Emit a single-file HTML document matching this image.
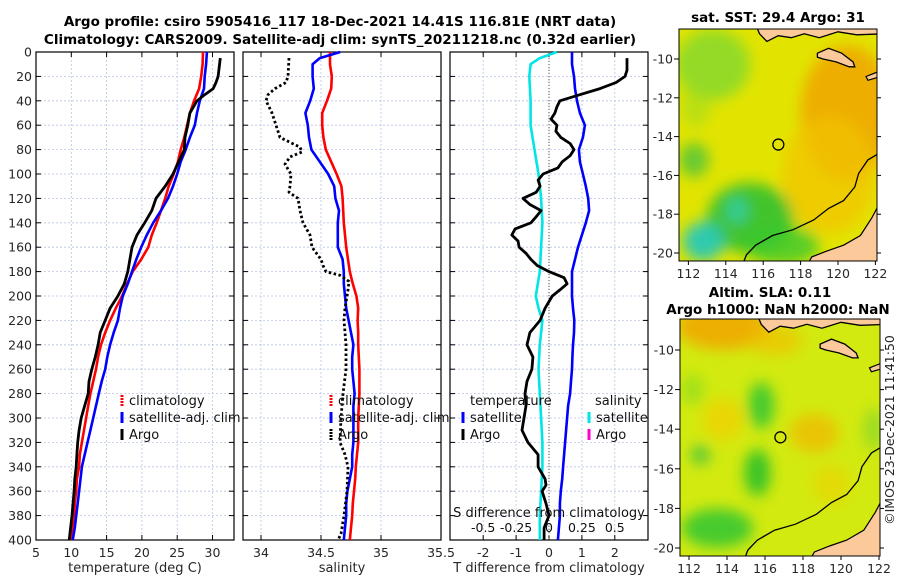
<!DOCTYPE html>
<html><head><meta charset="utf-8"><style>
html,body{margin:0;padding:0;background:#fff}
svg{display:block;font-family:"DejaVu Sans","Liberation Sans",sans-serif}
</style></head><body>
<svg id="fig" width="900" height="580" viewBox="0 0 900 580" xmlns="http://www.w3.org/2000/svg">
<defs>
<filter id="blur" x="-50%" y="-50%" width="200%" height="200%"><feGaussianBlur stdDeviation="7"/></filter>
<clipPath id="clipTop"><rect x="679" y="29" width="198" height="232"/></clipPath>
<clipPath id="clipBot"><rect x="680" y="319" width="200" height="237"/></clipPath>
</defs>
<g font-weight="bold" font-size="13.5" fill="#000" text-anchor="middle">
<text x="340" y="26">Argo profile: csiro 5905416_117 18-Dec-2021 14.41S 116.81E (NRT data)</text>
<text x="340" y="44">Climatology: CARS2009. Satellite-adj clim: synTS_20211218.nc (0.32d earlier)</text>
<text x="778" y="22">sat. SST: 29.4 Argo: 31</text>
<text x="770" y="297">Altim. SLA: 0.11</text>
<text x="778" y="314">Argo h1000: NaN h2000: NaN</text>
</g>
<text x="894" y="430" font-size="12.5" fill="#222" text-anchor="middle" transform="rotate(-90 894 430)">©IMOS 23-Dec-2021 11:41:50</text>
<g id="plots"></g>
</svg>
<script>
// ---------- data ----------
const depthStd = [0,10,20,30,40,50,60,70,80,90,100,110,120,130,140,150,160,170,180,190,200,210,220,230,240,250,260,270,280,290,300,310,320,330,340,350,360,370,380,390,400];
const tempClim = [28.65,28.6,28.4,28.1,27.4,26.8,26.4,26.0,25.5,25.1,24.5,23.8,23.3,22.7,22.1,21.4,20.9,19.9,18.7,17.9,17.2,16.3,15.5,14.8,14.2,13.8,13.5,13.1,12.7,12.4,12.1,11.8,11.5,11.2,11.1,10.8,10.7,10.5,10.4,10.2,10.0];
const tempSat = [29.2,29.1,28.9,28.8,28.2,27.8,27.5,26.8,26.2,25.5,25.0,24.4,23.7,22.7,21.6,20.7,19.9,19.2,18.6,18.0,17.3,16.9,16.6,16.0,15.5,15.1,14.8,14.3,13.9,13.5,13.1,12.7,12.3,11.9,11.5,11.3,11.1,10.9,10.7,10.5,10.2];
const depthArgoT = [5,20,25,30,35,40,50,60,70,80,90,100,110,120,130,140,150,160,170,180,190,200,210,220,230,240,250,260,270,280,290,300,310,320,330,340,350,360,380,400];
const tempArgo = [31.1,30.8,30.5,30.1,28.9,27.8,26.8,26.5,26.1,26.0,25.2,24.4,23.3,22.0,21.4,20.4,19.3,18.6,18.3,18.0,17.5,16.6,15.5,14.8,14.1,13.8,13.4,12.9,12.5,12.4,11.9,11.4,11.1,10.9,10.8,10.7,10.5,10.4,10.1,9.7];
const salClim = [34.575,34.575,34.59,34.585,34.55,34.51,34.51,34.52,34.54,34.585,34.63,34.67,34.68,34.685,34.69,34.7,34.71,34.725,34.74,34.765,34.795,34.81,34.805,34.81,34.81,34.815,34.82,34.82,34.82,34.815,34.81,34.81,34.81,34.8,34.79,34.785,34.775,34.765,34.76,34.75,34.74];
const depthSalSat = [0,5,10,20,30,40,50,60,70,80,90,100,110,120,130,140,150,160,170,180,190,200,210,220,230,240,250,260,270,280,290,300,310,320,330,340,350,360,370,380,390,400];
const salSat = [34.66,34.49,34.43,34.43,34.44,34.41,34.37,34.39,34.4,34.42,34.49,34.56,34.61,34.62,34.65,34.64,34.64,34.64,34.68,34.69,34.69,34.7,34.71,34.73,34.75,34.77,34.76,34.76,34.77,34.78,34.77,34.77,34.77,34.77,34.76,34.76,34.74,34.72,34.71,34.71,34.7,34.69];
const depthArgoS = [5,20,25,30,35,40,50,60,70,78,82,86,92,100,110,115,120,130,140,150,160,170,175,180,183,188,195,200,210,220,240,260,280,300,320,330,340,360,380,395,400];
const salArgo = [34.233,34.225,34.208,34.117,34.058,34.042,34.092,34.125,34.158,34.325,34.342,34.242,34.2,34.25,34.242,34.233,34.308,34.325,34.35,34.408,34.425,34.5,34.517,34.542,34.658,34.733,34.725,34.717,34.7,34.692,34.708,34.708,34.683,34.667,34.658,34.7,34.725,34.717,34.692,34.667,34.642];
const tDiffSat = [0.70,0.70,0.76,0.79,0.85,0.94,1.09,1.03,0.91,0.94,1.03,1.12,1.19,1.22,1.12,1.0,0.88,0.79,0.70,0.70,0.70,0.73,0.77,0.76,0.73,0.71,0.70,0.67,0.64,0.58,0.55,0.52,0.49,0.46,0.43,0.40,0.36,0.33,0.33,0.30,0.27];
const depthTDiffArgo = [5,15,20,25,30,35,40,45,50,55,60,65,70,75,80,85,90,95,100,105,110,115,120,125,130,135,140,145,150,155,160,165,170,175,180,185,190,195,200,210,220,230,240,250,260,270,280,290,300,310,320,330,340,350,355,360,370,380,390,400];
const tDiffArgo = [2.37,2.37,2.31,2.04,1.55,0.94,0.33,0.24,0.18,0.06,0.24,0.21,0.36,0.64,0.76,0.64,0.4,0.27,-0.18,-0.33,-0.27,-0.39,-0.79,-0.58,-0.24,-0.39,-0.55,-1.03,-1.13,-0.94,-0.91,-0.7,-0.55,-0.36,0,0.46,0.55,0.33,0.1,-0.12,-0.27,-0.58,-0.67,-0.49,-0.52,-0.67,-0.73,-0.7,-0.76,-0.82,-0.64,-0.33,-0.33,-0.12,-0.09,-0.21,-0.09,0,-0.15,-0.15];
const depthSDiff = [0,5,10,20,40,60,80,100,120,140,160,180,200,210,220,240,260,280,300,320,340,360,380,400];
const sDiffSat = [0.06,-0.07,-0.14,-0.15,-0.14,-0.14,-0.11,-0.08,-0.06,-0.05,-0.06,-0.07,-0.1,-0.08,-0.05,-0.07,-0.08,-0.07,-0.06,-0.05,-0.05,-0.06,-0.07,-0.07];
const depthTicks = [0,20,40,60,80,100,120,140,160,180,200,220,240,260,280,300,320,340,360,380,400];
const tempTicks = [5,10,15,20,25,30];
const salTicks = [34,34.5,35,35.5];
const salTickLabels = ["34","34.5","35","35.5"];
const tdTicks = [-2,-1,0,1,2];
const sdTicks = [-0.5,-0.25,0,0.25,0.5];
const sdTickLabels = ["-0.5","-0.25","0","0.25","0.5"];
const topLatTicks = [-10,-12,-14,-16,-18,-20];
const lonTicks = [112,114,116,118,120,122];
const argoLon = 116.81, argoLat = -14.41;

// ---------- helpers ----------
const NS="http://www.w3.org/2000/svg";
const root=document.getElementById('plots');
function mk(tag,attrs,parent){const e=document.createElementNS(NS,tag);for(const k in attrs)e.setAttribute(k,attrs[k]);(parent||root).appendChild(e);return e;}
const Y0=52,Y1=540;
const yD=d=>Y0+(d/400)*(Y1-Y0);
function axisFn(v0,x0,v1,x1){return v=>x0+(v-v0)*(x1-x0)/(v1-v0);}
const xT=axisFn(5,36,30,212.5);
const xS=axisFn(34,261,35.5,441);
const xTD=axisFn(0,549,2,614.8);
const xSD=axisFn(0,549,0.5,614.8);

function panel(name,x0,x1,xs,ticks,labels,showY,xlabel){
  const g=mk('g',{});
  
  
  ticks.forEach(t=>{const l=mk('line',{x1:xs(t),x2:xs(t),y1:Y0,y2:Y1,stroke:'#b8c4e8','stroke-width':0.8,'stroke-dasharray':'2,2'},g);
    });
  depthTicks.forEach(d=>{const l=mk('line',{x1:x0,x2:x1,y1:yD(d),y2:yD(d),stroke:'#b8c4e8','stroke-width':0.8,'stroke-dasharray':'2,2'},g);
    
    mk('line',{x1:x0,x2:x0+5,y1:yD(d),y2:yD(d),stroke:'#000'},g);mk('line',{x1:x1-5,x2:x1,y1:yD(d),y2:yD(d),stroke:'#000'},g);
    if(showY){const t=mk('text',{x:x0-4,y:yD(d)+4.5,'font-size':12.5,'text-anchor':'end',fill:'#262626'},g);t.textContent=d;
      }});
  ticks.forEach((t,i)=>{mk('line',{x1:xs(t),x2:xs(t),y1:Y1-5,y2:Y1,stroke:'#000'},g);mk('line',{x1:xs(t),x2:xs(t),y1:Y0,y2:Y0+5,stroke:'#000'},g);
    const tx=mk('text',{x:xs(t),y:Y1+17,'font-size':12.5,'text-anchor':'middle',fill:'#262626'},g);tx.textContent=labels[i];
    });
  const r=mk('rect',{x:x0,y:Y0,width:x1-x0,height:Y1-Y0,fill:'none',stroke:'#000','stroke-width':1.2},g);
  
  const xl=mk('text',{x:(x0+x1)/2,y:572,'font-size':13,'text-anchor':'middle',fill:'#262626'},g);xl.textContent=xlabel;
  
  return g;
}
function line(g,name,xs,vals,depths,color,w,dash){
  const pts=vals.map((v,i)=>xs(v).toFixed(1)+','+yD(depths[i]).toFixed(1)).join(' ');
  const p=mk('polyline',{points:pts,fill:'none',stroke:color,'stroke-width':w,'stroke-linejoin':'round'},g);
  if(dash)p.setAttribute('stroke-dasharray',dash);
  
  
}
function legendItem(g,x,y,color,label,dash){
  const m=mk('line',{x1:x,x2:x,y1:y-10,y2:y+1,stroke:color,'stroke-width':3},g);
  if(dash)m.setAttribute('stroke-dasharray',dash);
  
  const t=mk('text',{x:x+7,y:y,'font-size':13,fill:'#111'},g);t.textContent=label;
  
}

// ---------- panel 1: temperature ----------
const p1=panel('temperature-panel',36,234,xT,tempTicks,tempTicks.map(String),true,'temperature (deg C)');
line(p1,'temperature-climatology-line',xT,tempClim,depthStd,'#ff0000',2.6);
line(p1,'temperature-satellite-line',xT,tempSat,depthStd,'#0000ff',2.6);
line(p1,'temperature-argo-line',xT,tempArgo,depthArgoT,'#000',2.8);
legendItem(p1,122,405,'#ff0000','climatology','2,1');
legendItem(p1,122,422,'#0000ff','satellite-adj. clim');
legendItem(p1,122,439,'#000','Argo');

// ---------- panel 2: salinity ----------
const p2=panel('salinity-panel',243,441,xS,salTicks,salTickLabels,false,'salinity');
line(p2,'salinity-climatology-line',xS,salClim,depthStd,'#ff0000',2.6);
line(p2,'salinity-satellite-line',xS,salSat,depthSalSat,'#0000ff',2.6);
line(p2,'salinity-argo-line',xS,salArgo,depthArgoS,'#000',2.8,'2.5,2.5');
legendItem(p2,331,405,'#ff0000','climatology','2,1');
legendItem(p2,331,422,'#0000ff','satellite-adj. clim');
legendItem(p2,331,439,'#000','Argo','2,1');

// ---------- panel 3: differences ----------
const p3=panel('difference-panel',450,648,xTD,tdTicks,tdTicks.map(String),false,'T difference from climatology');
const zl=mk('line',{x1:xTD(0),x2:xTD(0),y1:Y0,y2:Y1,stroke:'#555','stroke-width':1,'stroke-dasharray':'1,2'},p3);

line(p3,'salinity-diff-satellite-line',xSD,sDiffSat,depthSDiff,'#00e5e5',2.6);
line(p3,'temperature-diff-satellite-line',xTD,tDiffSat,depthStd,'#0000ff',2.6);
line(p3,'temperature-diff-argo-line',xTD,tDiffArgo,depthTDiffArgo,'#000',2.8);
const tt=mk('text',{x:470,y:405,'font-size':13,fill:'#111'},p3);tt.textContent='temperature';

const st=mk('text',{x:595,y:405,'font-size':13,fill:'#111'},p3);st.textContent='salinity';

legendItem(p3,463,422,'#0000ff','satellite');
legendItem(p3,463,439,'#000','Argo');
legendItem(p3,589,422,'#00e5e5','satellite');
legendItem(p3,589,439,'#ff00cc','Argo');
const sdl=mk('text',{x:549,y:517,'font-size':13,'text-anchor':'middle',fill:'#111'},p3);sdl.textContent='S difference from climatology';

sdTicks.forEach((t,i)=>{const tx=mk('text',{x:xSD(t),y:532,'font-size':12.5,'text-anchor':'middle',fill:'#111'},p3);tx.textContent=sdTickLabels[i];
  });

// ---------- maps ----------
function drawMap(name,clip,box,lonX,latY,base,blobs,latTicks){
  const g=mk('g',{});
  
  
  const c=mk('g',{'clip-path':'url(#'+clip+')'},g);
  mk('rect',{x:box[0],y:box[1],width:box[2],height:box[3],fill:base},c);
  const bl=mk('g',{filter:'url(#blur)'},c);
  blobs.forEach(b=>mk('ellipse',{cx:lonX(b[0]),cy:latY(b[1]),rx:b[2]*18.8,ry:b[3]*19.5,fill:b[4],opacity:b[5]},bl));
  const P=a=>a.map(p=>lonX(p[0]).toFixed(1)+','+latY(p[1]).toFixed(1)).join(' ');
  const land='#fbc99a';
  const n=mk('polygon',{points:P([[115.5,-8],[122.5,-8],[122.5,-8.7],[121,-8.75],[120,-8.6],[119,-8.9],[118.2,-8.7],[117.5,-8.9],[116.8,-8.8],[116.2,-9.1],[115.8,-8.7]]),fill:land,stroke:'#000','stroke-width':1.3},c);
  
  const is=mk('polygon',{points:P([[118.9,-9.7],[119.5,-9.45],[120.2,-9.7],[120.8,-10.15],[120.9,-10.4],[120.6,-10.4],[119.9,-10.15],[119.2,-10],[118.9,-9.9]]),fill:land,stroke:'#000','stroke-width':1.3},c);
  
  mk('polygon',{points:P([[121.5,-10.9],[122.3,-10.6],[122.3,-10.9],[121.6,-11.1]]),fill:land,stroke:'#000','stroke-width':1.2},c);
  const au=mk('polygon',{points:P([[122.3,-17.3],[121.8,-18.2],[121.2,-19.1],[120.3,-19.6],[119.4,-19.9],[118.6,-20.2],[118.3,-20.7],[122.3,-20.7]]),fill:land,stroke:'#000','stroke-width':1.2},c);
  
  const co=mk('polyline',{points:P([[122.3,-14.8],[121.6,-15.2],[121.1,-15.9],[120.9,-16.6],[120.3,-17.3],[119.5,-17.7],[118.7,-18.3],[117.6,-18.8],[116.5,-19.1],[115.6,-19.6],[115.1,-20.1],[114.9,-20.6]]),fill:'none',stroke:'#000','stroke-width':1.3},c);
  
  const ci=mk('circle',{cx:lonX(argoLon),cy:latY(argoLat),r:5.5,fill:'none',stroke:'#000','stroke-width':1.3},g);
  
  const fr=mk('rect',{x:box[0],y:box[1],width:box[2],height:box[3],fill:'none',stroke:'#000','stroke-width':1},g);
  
  latTicks.forEach(la=>{mk('line',{x1:box[0]-5,x2:box[0],y1:latY(la),y2:latY(la),stroke:'#000'},g);
    mk('line',{x1:box[0]+box[2],x2:box[0]+box[2]+4,y1:latY(la),y2:latY(la),stroke:'#000'},g);
    const t=mk('text',{x:box[0]-6,y:latY(la)+4.5,'font-size':12.5,'text-anchor':'end',fill:'#262626'},g);t.textContent=la;
    });
  lonTicks.forEach(lo=>{mk('line',{x1:lonX(lo),x2:lonX(lo),y1:box[1]+box[3],y2:box[1]+box[3]+4,stroke:'#000'},g);
    const t=mk('text',{x:lonX(lo),y:box[1]+box[3]+17,'font-size':12.5,'text-anchor':'middle',fill:'#262626'},g);t.textContent=lo;
    });
}
drawMap('sst-map','clipTop',[679,29,198,232],axisFn(112,688.4,122,875.4),axisFn(-10,59,-20,253),'#e2e400',[
  [120.5,-12.8,2.5,3.5,'#f0a400',0.85],[119.5,-16,2.5,3,'#f2c400',0.75],
  [113.3,-10.3,2,1.8,'#80d830',0.8],[112.4,-12.5,0.8,1,'#a0dc20',0.6],[112.3,-15.2,0.8,0.9,'#40c040',0.75],
  [115.3,-18.2,2.3,1.8,'#30c030',0.9],[112.8,-19.4,1.1,1,'#20c8c0',0.9],[114.6,-17.8,0.6,0.7,'#30d0c0',0.7],
  [117,-19.6,2,1,'#38c830',0.8]],topLatTicks);
drawMap('sla-map','clipBot',[680,319,200,237],axisFn(112,689,122,879),axisFn(-10,350,-20,548),'#d2ea10',[
  [113.8,-8.8,2.5,1.2,'#f0a800',0.9],[116.5,-9.5,1.5,0.8,'#f0c000',0.7],[118.6,-14.2,1.3,1,'#f0b800',0.75],
  [113.8,-13.5,1.1,1.1,'#f0d000',0.75],[119.5,-16.8,1,1,'#eed000',0.6],[115.8,-12.8,0.7,1.2,'#38c830',0.9],
  [115.6,-16.2,0.7,1.2,'#28c028',0.9],[112.6,-15.3,0.5,0.5,'#40c040',0.85],[113.5,-19,1.9,1,'#38c830',0.9],
  [112.2,-12,0.6,0.8,'#80d820',0.6],[121.7,-14,0.5,1.1,'#70d030',0.6]],topLatTicks);
</script>
</body></html>
